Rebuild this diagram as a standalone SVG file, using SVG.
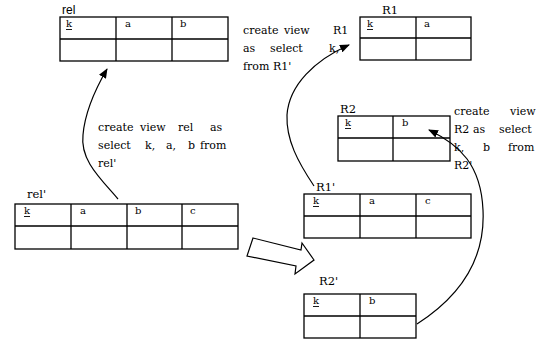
<svg xmlns="http://www.w3.org/2000/svg" width="541" height="339" viewBox="0 0 541 339">
<style>
.t{font-family:"DejaVu Serif","Liberation Serif",serif;font-size:11px;fill:#000}
.h{font-family:"DejaVu Serif","Liberation Serif",serif;font-size:10px;fill:#000}
.lb{font-family:"DejaVu Serif","Liberation Serif",serif;font-size:11.5px;fill:#000}
.ls{font-family:"Liberation Sans","DejaVu Sans",sans-serif;font-size:12px;fill:#000}
.box{fill:#fff;stroke:#000;stroke-width:1.3}
.ln{stroke:#000;stroke-width:1.3;fill:none}
.u{stroke:#000;stroke-width:0.9}
.c{fill:none;stroke:#000;stroke-width:1.2}
</style>
<defs>
<marker id="ah" viewBox="0 0 10 8" refX="9" refY="4" markerWidth="10" markerHeight="8" markerUnits="userSpaceOnUse" orient="auto">
<path d="M0,0 L10,4 L0,8 z" fill="#000"/>
</marker>
</defs>
<rect width="541" height="339" fill="#fff"/>

<g id="rel">
<text class="ls" x="62" y="14">rel</text>
<rect class="box" x="60" y="17" width="168" height="44"/>
<path class="ln" d="M60,39H228M116,17V61M172,17V61"/>
<text class="h" x="66" y="27">k</text><line class="u" x1="66" y1="29.5" x2="72" y2="29.5"/>
<text class="h" x="125" y="27">a</text>
<text class="h" x="180" y="27">b</text>
</g>

<g id="R1">
<text class="lb" x="382" y="14">R1</text>
<rect class="box" x="360" y="17" width="111" height="43"/>
<path class="ln" d="M360,38H471M416,17V60"/>
<text class="h" x="367" y="27">k</text><line class="u" x1="367" y1="29.5" x2="373" y2="29.5"/>
<text class="h" x="424" y="27">a</text>
</g>

<g id="R2">
<text class="lb" x="340" y="113">R2</text>
<rect class="box" x="338" y="116" width="112" height="45"/>
<path class="ln" d="M338,138H450M393,116V161"/>
<text class="h" x="345" y="126">k</text><line class="u" x1="345" y1="128.5" x2="351" y2="128.5"/>
<text class="h" x="402" y="126">b</text>
</g>

<g id="R1p">
<text class="lb" x="316" y="191">R1'</text>
<rect class="box" x="304" y="194" width="167" height="44"/>
<path class="ln" d="M304,216H471M360,194V238M416,194V238"/>
<text class="h" x="313" y="204">k</text><line class="u" x1="313" y1="206.5" x2="319" y2="206.5"/>
<text class="h" x="369" y="204">a</text>
<text class="h" x="425" y="204">c</text>
</g>

<g id="R2p">
<text class="lb" x="319" y="285">R2'</text>
<rect class="box" x="304" y="294" width="112" height="44"/>
<path class="ln" d="M304,316H416M360,294V338"/>
<text class="h" x="313" y="304">k</text><line class="u" x1="313" y1="306.5" x2="319" y2="306.5"/>
<text class="h" x="369" y="304">b</text>
</g>

<g id="relp">
<text class="lb" x="27" y="198">rel'</text>
<rect class="box" x="15" y="204" width="223" height="45"/>
<path class="ln" d="M15,226H238M71,204V249M127,204V249M182,204V249"/>
<text class="h" x="24" y="214">k</text><line class="u" x1="24" y1="216.5" x2="30" y2="216.5"/>
<text class="h" x="80" y="214">a</text>
<text class="h" x="135" y="214">b</text>
<text class="h" x="190" y="214">c</text>
</g>

<g id="note-R1">
<text class="t" y="34"><tspan x="243">create</tspan><tspan x="284">view</tspan><tspan x="333">R1</tspan></text>
<text class="t" y="52"><tspan x="243">as</tspan><tspan x="270">select</tspan><tspan x="329">k,</tspan></text>
<text class="t" y="70"><tspan x="243">from</tspan><tspan x="273">R1'</tspan></text>
</g>

<g id="note-rel">
<text class="t" y="131"><tspan x="98">create</tspan><tspan x="140">view</tspan><tspan x="178">rel</tspan><tspan x="210">as</tspan></text>
<text class="t" y="149"><tspan x="98">select</tspan><tspan x="145">k,</tspan><tspan x="166">a,</tspan><tspan x="188">b</tspan><tspan x="200">from</tspan></text>
<text class="t" y="167"><tspan x="98">rel'</tspan></text>
</g>

<g id="note-R2">
<text class="t" y="115"><tspan x="454">create</tspan><tspan x="510">view</tspan></text>
<text class="t" y="133"><tspan x="454">R2</tspan><tspan x="473">as</tspan><tspan x="499">select</tspan></text>
<text class="t" y="151"><tspan x="454">k,</tspan><tspan x="483">b</tspan><tspan x="508">from</tspan></text>
<text class="t" y="169"><tspan x="454">R2'</tspan></text>
</g>

<g id="connectors">
<path class="c" d="M118,199 C100,178 80,160 83,135 C85,110 96,88 107,69" marker-end="url(#ah)"/>
<path class="c" d="M314,186 C298,162 286,140 287,115 C289,85 315,60 349,45" marker-end="url(#ah)"/>
<path class="c" d="M417,324 C470,290 485,250 483,210 C481,165 460,145 429,130" marker-end="url(#ah)"/>
<polygon points="253,238 301,250 302,243 314,260 295,274 296,266 247,256" fill="#fff" stroke="#000" stroke-width="1.2" stroke-linejoin="miter"/>
</g>
</svg>
